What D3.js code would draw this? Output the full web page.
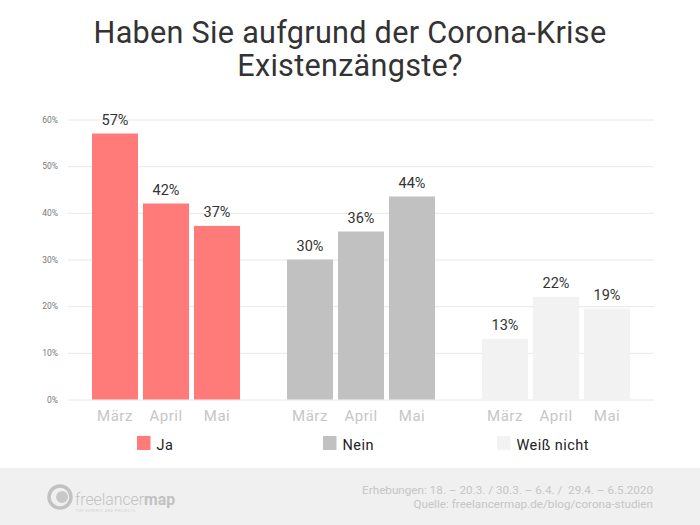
<!DOCTYPE html>
<html><head><meta charset="utf-8">
<script src="https://cdn.jsdelivr.net/npm/d3@7/dist/d3.min.js"></script>
<style>html,body{margin:0;padding:0;background:#fff}svg{display:block}text{font-family:Roboto,sans-serif}</style>
</head><body><svg id="c" width="700" height="525"></svg>
<script>
const titleLines = ["Haben Sie aufgrund der Corona-Krise","Existenzängste?"];
const groups = ["Ja","Nein","Weiß nicht"];
const months = ["März","April","Mai"];
const jaValues = [57,42,37.2];
const neinValues = [30,36,43.5];
const wnValues = [13,22,19.5];
const jaLabels = ["57%","42%","37%"];
const neinLabels = ["30%","36%","44%"];
const wnLabels = ["13%","22%","19%"];
const yTicks = [0,10,20,30,40,50,60];
const colors = ["#ff7b79","#c1c1c1","#f2f2f2"];
const footerLines = ["Erhebungen: 18. – 20.3. / 30.3. – 6.4. /  29.4. – 6.5.2020","Quelle: freelancermap.de/blog/corona-studien"];

const svg = d3.select("#c");
const y = d3.scaleLinear().domain([0,60]).range([399.5,119.5]);
const gx = d3.scaleBand().domain(groups).range([68,653]);
const ix = d3.scaleBand().domain(months).range([24,172]).paddingInner(5/51);

svg.selectAll("text.title").data(titleLines).join("text").attr("class","title")
  .attr("x",350).attr("y",(d,i)=>43+i*33).attr("text-anchor","middle")
  .attr("font-size",30.6).attr("letter-spacing",0.28).attr("fill","#333").text(d=>d);

const axis = svg.append("g").attr("transform","translate(68,0)")
  .call(d3.axisLeft(y).tickValues(yTicks).tickFormat(d=>d+"%").tickSize(-586).tickPadding(10));
axis.select(".domain").remove();
axis.selectAll(".tick line").attr("stroke","#e8e8e8");
axis.selectAll(".tick text").attr("font-size",8.5).attr("fill","#777").attr("font-family","Roboto,sans-serif");

const series = [[jaValues,jaLabels],[neinValues,neinLabels],[wnValues,wnLabels]];
series.forEach(([vals,labs],g)=>{
  const x0 = gx(groups[g]);
  const G = svg.append("g").attr("transform",`translate(${x0},0)`);
  G.selectAll("rect").data(vals).join("rect")
    .attr("x",(d,i)=>ix(months[i])).attr("width",ix.bandwidth())
    .attr("y",d=>y(d)).attr("height",d=>y(0)-y(d)).attr("fill",colors[g]);
  G.selectAll("text.v").data(vals).join("text").attr("class","v")
    .attr("x",(d,i)=>ix(months[i])+ix.bandwidth()/2).attr("y",d=>y(d)-8.5)
    .attr("text-anchor","middle").attr("font-size",14.5).attr("fill","#333").text((d,i)=>labs[i]);
  G.selectAll("text.m").data(months).join("text").attr("class","m")
    .attr("x",d=>ix(d)+ix.bandwidth()/2).attr("y",420.5)
    .attr("text-anchor","middle").attr("font-size",15).attr("letter-spacing",0.5).attr("fill","#c6c6c6").text(d=>d);
});

// legend
const legendX = [137,323,497];
const lg = svg.selectAll("g.lg").data(groups).join("g").attr("class","lg")
  .attr("transform",(d,i)=>`translate(${legendX[i]},436)`);
lg.append("rect").attr("width",13.5).attr("height",14).attr("fill",(d,i)=>colors[i]);
lg.append("text").attr("x",19.5).attr("y",13.5).attr("font-size",14.5).attr("fill","#222")
  .attr("letter-spacing",0.45).text(d=>d);

// footer
svg.append("rect").attr("x",0).attr("y",468).attr("width",700).attr("height",57).attr("fill","#f0f0f0");
svg.selectAll("text.f").data(footerLines).join("text").attr("class","f")
  .attr("x",653).attr("y",(d,i)=>493.5+i*14.5).attr("text-anchor","end")
  .style("white-space","pre")
  .attr("font-size",11.7).attr("fill","#c6c6c6").text(d=>d);

// logo
const logo = svg.append("g");
logo.append("circle").attr("cx",60).attr("cy",497).attr("r",11).attr("fill","none").attr("stroke","#c2c2c2").attr("stroke-width",3.5);
logo.append("circle").attr("cx",62).attr("cy",497).attr("r",6).attr("fill","#c8c8c8");
const lt = logo.append("text").attr("x",75).attr("y",505).attr("font-size",15.8).attr("fill","#c2c2c2");
lt.append("tspan").attr("font-weight",300).text("freelancer");
lt.append("tspan").attr("font-weight",700).text("map");
logo.append("text").attr("x",76).attr("y",511.5).attr("font-size",3.4).attr("letter-spacing",0.55).attr("fill","#cfcfcf").text("TOP EXPERTS AND PROJECTS");
</script></body></html>
